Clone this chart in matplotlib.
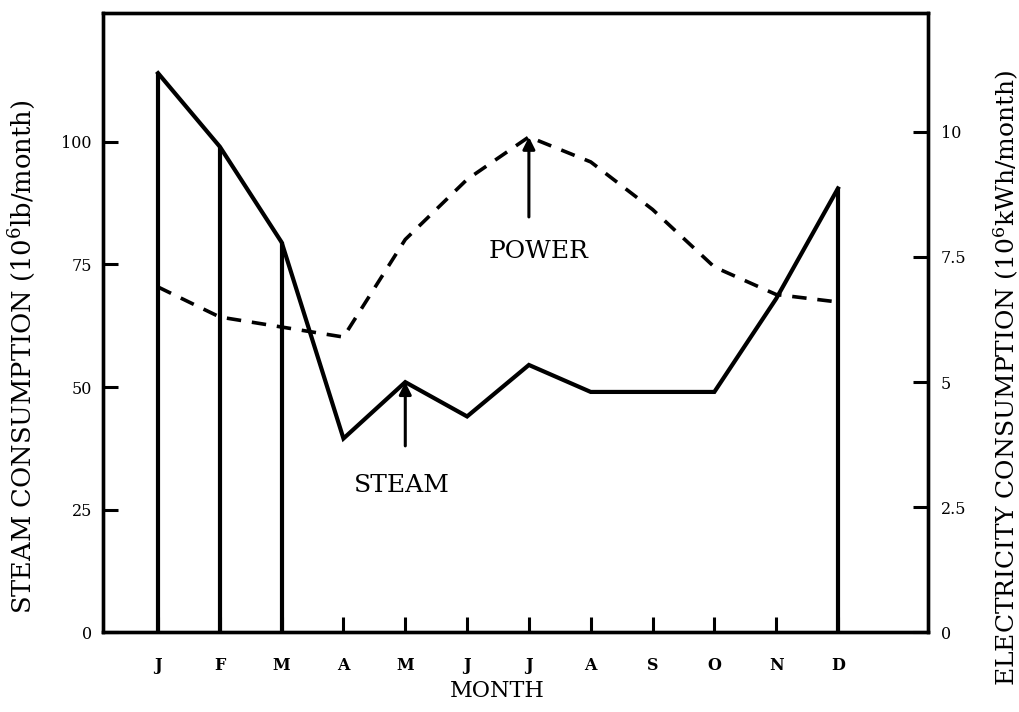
import matplotlib
matplotlib.use("Agg")
import matplotlib.pyplot as plt

plt.rcParams["font.family"] = ["DejaVu Serif"]
plt.rcParams["mathtext.default"] = "regular"

# ---- data
months = ["J", "F", "M", "A", "M", "J", "J", "A", "S", "O", "N", "D"]
month_pos = [1, 2, 3, 4, 5, 6, 7, 8, 9, 10, 11, 12]
steam = [114, 99, 79.5, 39.5, 51, 44, 54.5, 49, 49, 49, 68, 90.5]
power = [6.9, 6.3, 6.1, 5.9, 7.85, 9.05, 9.9, 9.4, 8.45, 7.3, 6.75, 6.6]
steam_drop_months = [1, 2, 3, 12]   # months with vertical drop lines
steam_ticks = [0, 25, 50, 75, 100]
power_ticks = [0, 2.5, 5, 7.5, 10]
power_tick_labels = ["0", "2.5", "5", "7.5", "10"]

fig = plt.figure(figsize=(10.2, 7.12), dpi=100)
ax = fig.add_axes([0.101, 0.112, 0.809, 0.870])
ax2 = ax.twinx()

# steam (solid) on left axis
ax.plot(month_pos, steam, color="black", lw=3.0, solid_joinstyle="miter", zorder=3)
drop_vals = [steam[month_pos.index(m)] for m in steam_drop_months]
ax.vlines(steam_drop_months, 0, drop_vals, color="black", lw=3.0, zorder=3)

# power (dashed) on right axis
ax2.plot(month_pos, power, color="black", lw=2.6, ls=(0, (4, 3)), zorder=3)

ax.set_xlim(0.11, 13.46)
ax.set_ylim(0, 126.3)
ax2.set_ylim(0, 12.38)

ax.set_xticks(month_pos)
ax.set_xticklabels(months, fontsize=11.5, fontweight="bold")
ax.set_yticks(steam_ticks)
ax.set_yticklabels([str(t) for t in steam_ticks], fontsize=11.5)
ax2.set_yticks(power_ticks)
ax2.set_yticklabels(power_tick_labels, fontsize=11.5)

ax.tick_params(axis="both", direction="in", length=11, width=2.2, pad=8)
ax2.tick_params(axis="y", direction="in", length=11, width=2.2, pad=9)
ax.tick_params(axis="x", pad=18)
ax.tick_params(top=False)

for a in (ax, ax2):
    for s in a.spines.values():
        s.set_linewidth(2.4)

ax.set_xlabel("MONTH", fontsize=16)
ax.xaxis.set_label_coords(0.478, -0.077)
ax.set_ylabel("STEAM CONSUMPTION (10$^6$lb/month)", fontsize=18.5)
ax.yaxis.set_label_coords(-0.079, 0.444)
ax2.set_ylabel("ELECTRICITY CONSUMPTION (10$^6$kWh/month)", fontsize=18, rotation=90)
ax2.yaxis.set_label_coords(1.077, 0.41)

# arrows + labels
ax2.annotate("", xy=(7, power[6]), xytext=(7, 8.3),
             arrowprops=dict(arrowstyle="-|>", color="black", lw=2.2,
                             mutation_scale=18, shrinkA=0, shrinkB=0))
ax2.text(7.15, 7.6, "POWER", fontsize=18, ha="center", va="center")

ax.annotate("", xy=(5, steam[4]), xytext=(5, 38),
            arrowprops=dict(arrowstyle="-|>", color="black", lw=2.2,
                            mutation_scale=18, shrinkA=0, shrinkB=0))
ax.text(4.95, 30, "STEAM", fontsize=18, ha="center", va="center")

plt.savefig("out.png", dpi=100)
